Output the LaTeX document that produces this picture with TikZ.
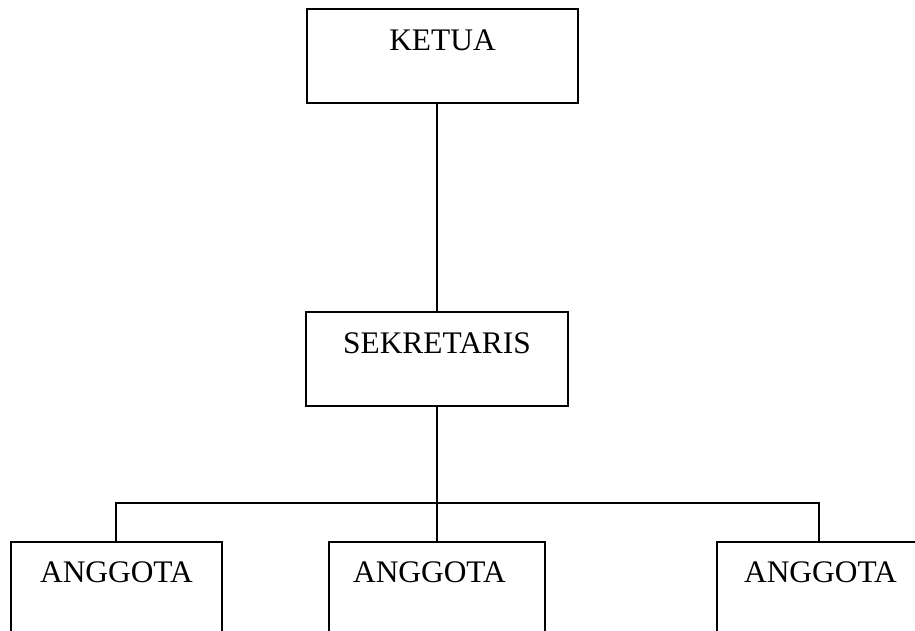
\documentclass[tikz,border=0pt]{standalone}
\usepackage{fontspec}
\setmainfont{Liberation Serif}
\begin{document}
\begin{tikzpicture}[x=1pt,y=-1pt,line width=1.6pt,
  orgbox/.style={draw,rectangle,inner sep=0pt,font=\fontsize{31.4}{36}\selectfont,anchor=north},
  topbox/.style={orgbox,text height=42pt,text depth=52pt},
  lowbox/.style={orgbox,text height=41pt,text depth=110pt}]
\useasboundingbox (0,0) rectangle (915,631);
\node[topbox,minimum width=271pt] (ketua) at (442.5,8) {KETUA};
\node[topbox,minimum width=262pt] (sek) at (437,311) {SEKRETARIS};
\node[lowbox,minimum width=211pt] (a1) at (116.5,541) {ANGGOTA};
\node[lowbox,minimum width=216pt] (a2) at (437,541) {ANGGOTA\hspace*{15pt}};
\node[lowbox,minimum width=215pt] (a3) at (824.5,541) {ANGGOTA\hspace*{8pt}};
\coordinate (bus) at (437,503);
\coordinate (d1) at (116,541);
\coordinate (d3) at (819,541);
\draw (sek.north) -- (sek.north |- ketua.south);
\draw (sek.south) -- (a2.north);
\draw (d1) |- (bus) -| (d3);
\end{tikzpicture}
\end{document}
